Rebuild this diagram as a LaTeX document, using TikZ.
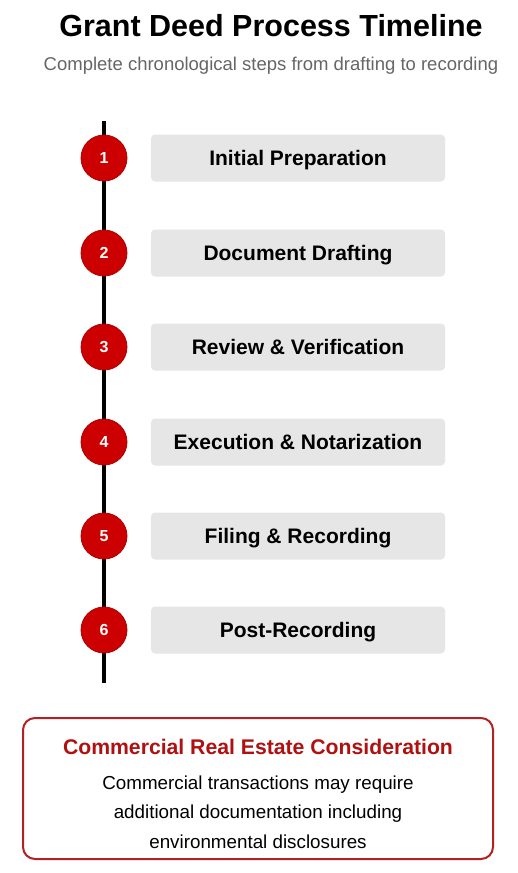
\documentclass[tikz,border=0pt]{standalone}
\usepackage{fontspec}
\setmainfont{Liberation Sans}
\definecolor{stepred}{HTML}{CC0000}
\definecolor{stepredline}{HTML}{B00000}
\definecolor{boxgray}{HTML}{E6E6E6}
\definecolor{subgray}{HTML}{666666}
\definecolor{notered}{HTML}{B22222}
\definecolor{notetitle}{HTML}{B01010}
\begin{document}
\begin{tikzpicture}[x=1pt,y=-1pt]
\tikzstyle{every node}+=[inner sep=0pt]
\tikzstyle{stepdot}=[circle,minimum size=46pt,fill=stepred,draw=stepredline,line width=0.8pt,text=white,text height=11.5pt,text depth=0pt,font=\fontsize{16}{16}\selectfont\bfseries]
\tikzstyle{stepbox}=[rounded corners=4pt,fill=boxgray,minimum width=294pt,minimum height=47pt,text height=15pt,text depth=0pt,font=\fontsize{21}{21}\selectfont\bfseries]
\useasboundingbox (0,0) rectangle (517,873);
\fill [white] (0,0) rectangle (517,873);
% heading
\node (title) at (271,26) [font=\fontsize{30.5}{30.5}\selectfont\bfseries] {Grant Deed Process Timeline};
\node (subtitle) at (271,66) [text=subgray,font=\fontsize{18.5}{18.5}\selectfont] {Complete chronological steps from drafting to recording};
% timeline
\coordinate (top) at (104,121);
\coordinate (bottom) at (104,683);
\draw [black,line width=4pt] (top) -- (bottom);
\node (dot1) at (104,158) [stepdot] {1};
\node (box1) at (298,158) [stepbox] {Initial Preparation};
\node (dot2) at (104,253) [stepdot] {2};
\node (box2) at (298,253) [stepbox] {Document Drafting};
\node (dot3) at (104,347) [stepdot] {3};
\node (box3) at (298,347) [stepbox] {Review \& Verification};
\node (dot4) at (104,442) [stepdot] {4};
\node (box4) at (298,442) [stepbox] {Execution \& Notarization};
\node (dot5) at (104,536) [stepdot] {5};
\node (box5) at (298,536) [stepbox] {Filing \& Recording};
\node (dot6) at (104,630) [stepdot] {6};
\node (box6) at (298,630) [stepbox] {Post-Recording};
% note
\draw [notered,line width=2pt,rounded corners=12pt] (23,718) rectangle (493,859);
\node (notehead) at (258,747) [text=notetitle,font=\fontsize{21.2}{21.2}\selectfont\bfseries] {Commercial Real Estate Consideration};
\node (notebody) at (258,812) [align=center,font=\fontsize{18.8}{29.5}\selectfont] {Commercial transactions may require\\additional documentation including\\environmental disclosures};
\end{tikzpicture}
\end{document}
